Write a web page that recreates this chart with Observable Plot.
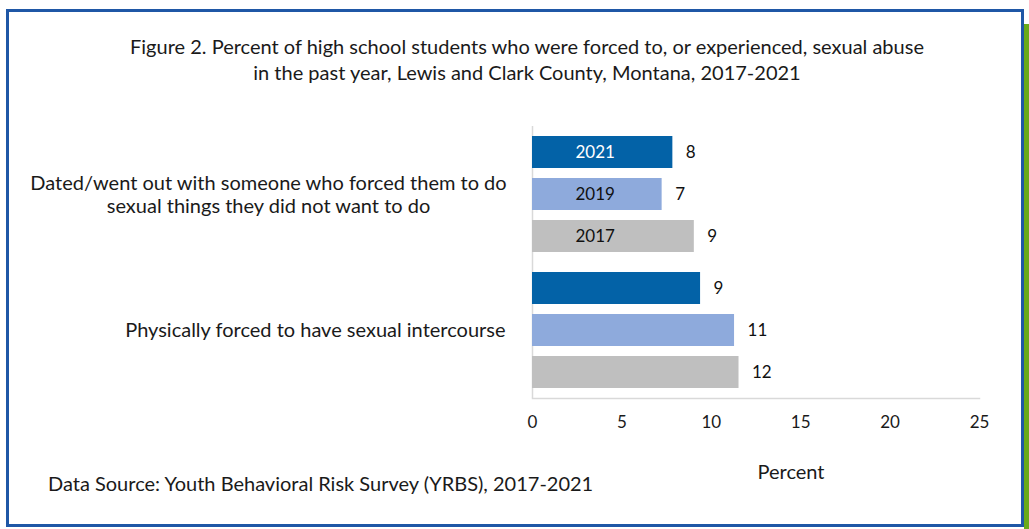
<!DOCTYPE html>
<html>
<head>
<meta charset="utf-8">
<script src="https://cdn.jsdelivr.net/npm/d3@7"></script>
<script src="https://cdn.jsdelivr.net/npm/@observablehq/plot@0.6"></script>
<style>
html, body { margin: 0; padding: 0; background: #fff; }
body { width: 1029px; height: 529px; position: relative; overflow: hidden; font-family: Lato, "Open Sans", sans-serif; color: #1a1a1a; }
#frame { position: absolute; left: 6px; top: 9px; width: 1012px; height: 512px; border: 3px solid #1f57a6; }
#green { position: absolute; left: 1024px; top: 24px; width: 5px; height: 505px; background: #6aaa1a; }
#chart { position: absolute; left: 0; top: 0; }
#title { position: absolute; left: 0; top: 33px; width: 1054px; text-align: center; font-size: 20px; line-height: 26px; white-space: nowrap; }
#source { position: absolute; left: 48px; top: 472px; font-size: 20px; line-height: 22px; white-space: nowrap; }
#xlabel { position: absolute; left: 741px; top: 460px; width: 100px; text-align: center; font-size: 20px; line-height: 22px; }
</style>
</head>
<body>
<div id="frame"></div>
<div id="green"></div>
<div id="chart"></div>
<div id="title">Figure 2. Percent of high school students who were forced to, or experienced, sexual abuse<br>in the past year, Lewis and Clark County, Montana, 2017-2021</div>
<div id="xlabel">Percent</div>
<div id="source">Data Source: Youth Behavioral Risk Survey (YRBS), 2017-2021</div>
<script>
// ---- data ----
const categories = [
  "Dated/went out with someone who forced them to do sexual things they did not want to do",
  "Physically forced to have sexual intercourse"
];
const categoryLabels = [
  "Dated/went out with someone who forced them to do\nsexual things they did not want to do",
  "Physically forced to have sexual intercourse"
];
const years = ["2021", "2019", "2017"];
const colors = ["#0362a7", "#8eaadc", "#bfbfbf"];
const yearTextColors = ["#ffffff", "#111111", "#111111"];
// values per category, in order of years
const datedValues = [7.85, 7.25, 9.05];
const physicalValues = [9.4, 11.3, 11.55];
const datedLabels = ["8", "7", "9"];
const physicalLabels = ["9", "11", "12"];
const xTicks = [0, 5, 10, 15, 20, 25];

const rows = [];
years.forEach((y, i) => rows.push({cat: categories[0], year: y, value: datedValues[i], label: datedLabels[i]}));
years.forEach((y, i) => rows.push({cat: categories[1], year: y, value: physicalValues[i], label: physicalLabels[i]}));

const labelText = d => categoryLabels[categories.indexOf(d)];

const chart = Plot.plot({
  width: 1029,
  height: 529,
  marginTop: 125,
  marginBottom: 131,
  marginLeft: 532,
  marginRight: 50,
  style: {background: "transparent", fontFamily: "Lato, 'Open Sans', sans-serif", fontSize: "17px", color: "#1a1a1a"},
  facet: {margin: 0},
  x: {domain: [0, 25], axis: null},
  y: {domain: years, padding: 0.236, axis: null},
  fy: {domain: categories, padding: 0, axis: null},
  color: {domain: years, range: colors},
  marks: [
    Plot.ruleX([0], {stroke: "#d9d9d9", strokeWidth: 1.5}),
    Plot.frame({anchor: "bottom", facetAnchor: "bottom", stroke: "#d9d9d9", strokeWidth: 1.5}),
    Plot.barX(rows, {x: "value", y: "year", fy: "cat", fill: "year"}),
    Plot.text(rows, {x: "value", y: "year", fy: "cat", text: "label", textAnchor: "start", dx: 13, fill: "#111"}),
    Plot.text(rows.filter(d => d.cat === categories[0]), {
      y: "year", fy: "cat", text: "year", frameAnchor: "left", textAnchor: "start", dx: 43,
      fill: d => yearTextColors[years.indexOf(d.year)]
    }),
    // two-line label: lines centred within a block whose right edge is aligned
    Plot.text([categories[0]], {
      fy: d => d, text: labelText,
      frameAnchor: "left", textAnchor: "middle", dx: -264, lineHeight: 1.15, fontSize: 20, fill: "#1a1a1a"
    }),
    // single-line label: right-aligned to the same edge
    Plot.text([categories[1]], {
      fy: d => d, text: labelText,
      frameAnchor: "left", textAnchor: "end", dx: -27, fontSize: 20, fill: "#1a1a1a"
    }),
    Plot.axisX({ticks: xTicks, tickSize: 0, tickPadding: 17, label: null, anchor: "bottom"})
  ]
});
document.getElementById("chart").appendChild(chart);
</script>
</body>
</html>
